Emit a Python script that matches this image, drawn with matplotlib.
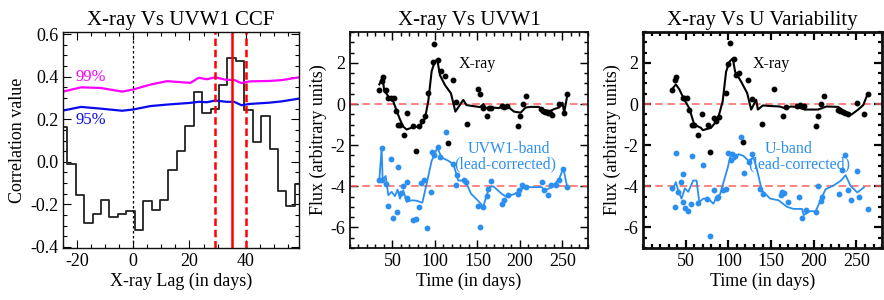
import matplotlib
matplotlib.use("Agg")
import matplotlib.pyplot as plt
from matplotlib.ticker import MultipleLocator

plt.rcParams['font.family'] = ['Liberation Serif', 'DejaVu Serif']
plt.rcParams['axes.unicode_minus'] = False

# ---- panel 1: CCF ----
lags = [-25, -22, -19, -16, -13, -10, -7, -4, -1, 2, 5, 8, 11, 14, 17, 20, 23,
        26, 29, 32, 35, 38, 41, 44, 47, 50, 53, 56, 59]
ccf = [0.165, -0.01, -0.155, -0.287, -0.244, -0.178, -0.259, -0.247, -0.232,
       -0.319, -0.185, -0.225, -0.178, -0.037, 0.049, 0.167, 0.33, 0.228, 0.25,
       0.36, 0.487, 0.474, 0.243, 0.094, 0.216, 0.06, -0.136, -0.208, -0.104]

sig_lag = [-25, -18.6, -11.6, -3.9, 0, 6.1, 12, 20.3, 23.3, 26.2, 29.1, 33.2,
           35.9, 38.5, 41.4, 48.5, 52.8, 59]
sig99 = [0.33, 0.35, 0.347, 0.33, 0.34, 0.363, 0.379, 0.371, 0.395, 0.388,
         0.397, 0.385, 0.385, 0.37, 0.378, 0.38, 0.384, 0.397]
sig95 = [0.241, 0.258, 0.25, 0.24, 0.246, 0.262, 0.269, 0.277, 0.282, 0.28,
         0.288, 0.282, 0.282, 0.266, 0.272, 0.278, 0.284, 0.297]

lag_best = 35
lag_lo, lag_hi = 29, 40

# ---- panel 2: X-ray vs UVW1 ----
xr_t = [34.5, 37.3, 38.8, 42, 45.1, 48.2, 51.4, 53.7, 56.9, 58.8, 63.9, 67.5,
        74.5, 77.6, 81.2, 85.1, 88, 91.4, 97.3, 99.2, 103.1, 107, 111.8, 115.7,
        121.6, 124.7, 137.3, 150.2, 153, 156.9, 160.8, 163.5, 165.9, 179.2,
        181.6, 184.3, 197.3, 200, 203.9, 206.7, 224.7, 227, 229.4, 232.5,
        235.3, 237.3, 246.2, 251.8, 255.3]
xr_f = [0.66, 1.14, 1.30, 0.69, 0.27, 0.27, 0.27, -0.34, -1.01, -1.01, -1.51,
        -0.45, -1.06, -2.27, -1.06, -0.85, -0.6, 0.54, 2.04, 2.94, 2.15, 1.62,
        1.38, -1.91, 1.16, 0.11, -0.98, 0.74, 0.5, -0.18, -0.58, -0.2, -0.2,
        -0.1, -0.14, -0.1, -1.06, -0.58, 0.01, 0.39, -0.26, -0.34, -0.37,
        -0.42, -0.42, -0.53, 0.01, -0.42, 0.5]

xl_t = [34.5, 38.4, 40.4, 43.1, 46.3, 51, 55, 58.8, 62.7, 66.7, 74.5, 80.4,
        85.1, 88.2, 92.2, 96.1, 100, 102.7, 105.9, 111.8, 118.8, 124, 133.3,
        137, 143, 153, 157, 160, 167, 175, 181, 187, 193, 200.8, 206.7, 212.5,
        222, 228, 236, 240, 246, 250, 252, 256]
xl_f = [0.95, 1.3, 0.6, 0.5, 0.28, 0.12, -0.34, -0.75, -1.1, -1.24, -1.12,
        -1.1, -0.92, -0.71, 0.16, 1.6, 2.08, 2.15, 1.4, 0.92, 0.52, -0.37, 0.2,
        -0.05, -0.09, -0.15, 0.0, -0.2, -0.17, -0.2, -0.07, -0.17, -0.37,
        -0.42, -0.17, -0.14, -0.14, -0.3, -0.33, -0.25, -0.17, 0.07, -0.42, 0.5]

uv_t = [34.5, 37.3, 38.0, 42, 45.1, 47.8, 50.9, 54.9, 56.9, 60, 62.7, 66.7,
        67.5, 73.7, 77.6, 81.2, 83.5, 87.5, 90.9, 94.9, 96.9, 99.2, 103.9, 106,
        112.6, 124.5, 121.6, 126, 134, 136, 150.2, 153, 156.9, 160.8, 162.7,
        165.9, 178.4, 181.6, 185.5, 197.3, 199.2, 202.7, 206.7, 225.5, 228.2,
        232.5, 236.5, 242, 246.3, 251, 255.7]
uv_f = [-3.68, -2.14, -3.68, -3.9, -4.96, -2.67, -5.56, -5.24, -3.07, -4.31,
        -4.0, -4.55, -3.8, -5.64, -5.59, -4.99, -3.83, -3.68, -6.01, -4.27,
        -2.35, -2.47, -2.07, -2.6, -1.35, -3.95, -2.9, -3.45, -3.68, -3.8,
        -4.96, -6.0, -4.99, -4.48, -4.15, -3.74, -4.84, -4.67, -4.44, -4.36,
        -4.2, -3.95, -4.05, -3.79, -4.2, -4.44, -3.92, -3.95, -3.68, -3.15,
        -4.05]

ul_t = [34.5, 37.3, 38.4, 42, 45.1, 49, 53, 56, 58.8, 62.7, 66.7, 72.5, 78.4,
        85.1, 90.2, 96.1, 99.2, 102.7, 107.8, 115.7, 121.6, 127.5, 133.3,
        136.5, 142.4, 150.2, 156.9, 160.8, 164.7, 168.6, 178.4, 184.3, 194.1,
        200, 205.9, 225.5, 229.4, 237.3, 246.3, 251, 255.7]
ul_f = [-3.68, -2.14, -3.68, -3.5, -4.43, -4.27, -4.48, -4.16, -4.6, -4.2,
        -4.76, -4.68, -4.7, -4.8, -3.88, -2.76, -2.49, -2.12, -2.6, -2.76,
        -2.92, -3.72, -3.72, -3.8, -4.36, -4.68, -4.99, -4.43, -4.03, -4.0,
        -4.36, -4.52, -4.36, -4.2, -4.04, -4.04, -4.2, -4.04, -3.63, -3.12,
        -4.05]

# ---- panel 3: X-ray vs U ----
xu_t = [34.5, 37.3, 38.8, 46.3, 48.5, 51, 53.7, 57, 60, 63.9, 68.6, 75.7,
        78.4, 83.5, 85, 89, 96.9, 99.2, 102, 106, 108.6, 113, 117.6, 123.5,
        127.5, 139.2, 153.3, 164.3, 167, 180, 184, 188, 202.4, 205, 208, 212.1,
        228, 231, 234, 237, 240, 251, 259.2, 263.2]
xu_f = [0.66, 1.19, 1.3, 0.27, 0.27, 0.27, -0.27, -1.0, -1.0, -1.51, -0.5,
        -1.03, -2.35, -0.68, -0.84, -0.64, 0.54, 1.95, 2.99, 2.2, 1.43, 1.5,
        -1.86, 1.15, 0.24, -0.95, 0.71, -0.59, -0.15, -0.1, -0.05, -0.1, -1.06,
        -0.6, 0.02, 0.39, -0.3, -0.35, -0.4, -0.45, -0.5, 0.05, -0.47, 0.5]

xul_t = [35.5, 38.5, 42.4, 47.4, 54.1, 60, 67.9, 70, 79.6, 87.5, 93.3, 97.3,
         101.2, 105.1, 107.9, 114.9, 122, 126.7, 132.6, 134.5, 140.4, 150, 160,
         165.9, 173.7, 180, 189.4, 205, 215, 228.6, 236, 244.3, 252, 258, 263.2]
xul_f = [0.8, 0.95, 0.72, 0.29, -0.2, -1.0, -1.16, -1.27, -1.16, -0.76, 0.13,
         1.57, 2.05, 2.22, 1.57, 1.09, 0.53, -0.27, 0.21, -0.27, -0.07, -0.1,
         -0.12, -0.2, -0.12, -0.15, -0.27, -0.27, -0.12, -0.14, -0.35, -0.51,
         -0.27, -0.05, 0.5]

ub_t = [34.5, 38.4, 38, 41.2, 44.3, 46.3, 47.1, 49, 52.2, 56.1, 56.9, 64.7,
        69.8, 74.5, 78.8, 83.5, 86.3, 88.2, 94.1, 96.9, 99.2, 103.1, 104.7,
        107.8, 114.9, 118, 124.7, 128, 137.3, 140, 161.2, 163.1, 165, 169.8,
        182.7, 186.7, 190.6, 202.4, 205.1, 208.2, 210.2, 229.8, 232.5, 236.5,
        239.6, 243.5, 250.6, 253.3, 263.1]
ub_f = [-4.07, -2.4, -5.02, -4.26, -3.78, -3.39, -4.77, -5.06, -5.18, -4.85,
        -2.52, -4.82, -2.96, -4.64, -6.44, -4.2, -4.55, -4.5, -4.18, -4.15,
        -2.4, -2.72, -2.44, -2.52, -1.6, -3.36, -2.82, -2.44, -4.12, -4.36,
        -4.43, -4.26, -4.34, -4.77, -4.53, -5.56, -5.15, -5.23, -4.0, -4.71,
        -4.53, -4.39, -3.23, -2.46, -4.2, -4.66, -3.28, -4.53, -5.09]

ubl_t = [34.5, 38.4, 41.2, 45.1, 49, 53, 58.8, 62.7, 65.9, 70.6, 76.5, 82.4,
         86.3, 90.2, 94.1, 99.2, 101.9, 105.9, 107.8, 111.8, 117.6, 123.5,
         129.4, 133.3, 139.2, 149, 158.8, 168.6, 176.5, 186.3, 188.2, 196.1,
         202, 207.8, 213.7, 223.5, 231.4, 237.3, 243.1, 251, 258.8]
ubl_f = [-4.2, -3.8, -4.2, -4.6, -4.1, -4.27, -3.72, -3.72, -4.77, -4.6, -4.6,
         -4.85, -4.5, -4.4, -3.83, -3.1, -2.6, -2.44, -2.7, -2.44, -2.52, -2.76,
         -2.6, -3.16, -4.2, -4.6, -4.68, -5.0, -5.1, -5.1, -5.4, -5.2, -5.23,
         -4.7, -4.15, -3.95, -3.74, -3.46, -3.98, -4.3, -4.05]

uv_color = '#2b8ff0'
ref_color = '#ff6060'

fig = plt.figure(figsize=(8.84, 3.0), dpi=100)
ax1 = fig.add_axes([0.0713, 0.1733, 0.267, 0.72])
ax2 = fig.add_axes([0.3959, 0.1733, 0.2692, 0.72])
ax3 = fig.add_axes([0.7274, 0.1733, 0.2704, 0.72])


def style_axes(ax, lw):
    for s in ax.spines.values():
        s.set_linewidth(lw)
        s.set_color('#111111')
    ax.tick_params(which='both', direction='in', top=True, right=True,
                   labelsize=13, width=lw * 0.8)
    ax.tick_params(which='major', length=6)
    ax.tick_params(which='minor', length=3)


# CCF
ax1.step(lags, ccf, where='mid', color='#222222', lw=1.3)
ax1.plot(sig_lag, sig99, color='#ff00ff', lw=1.6)
ax1.plot(sig_lag, sig95, color='#0a0aee', lw=1.6)
ax1.axvline(0, color='black', lw=0.9, ls=(0, (2, 2)))
ax1.axvline(lag_best, color='#ff0000', lw=1.8)
ax1.axvline(lag_lo, color='#ff0000', lw=1.8, ls=(0, (3, 1.5)))
ax1.axvline(lag_hi, color='#ff0000', lw=1.8, ls=(0, (3, 1.5)))
ax1.text(-15, 0.40, '99%', color='#ff00ff', fontsize=12, ha='center', va='center')
ax1.text(-15, 0.195, '95%', color='#0a0aee', fontsize=12, ha='center', va='center')
ax1.set_xlim(-25, 59)
ax1.set_ylim(-0.405, 0.61)
ax1.xaxis.set_major_locator(MultipleLocator(20))
ax1.xaxis.set_minor_locator(MultipleLocator(5))
ax1.yaxis.set_major_locator(MultipleLocator(0.2))
ax1.yaxis.set_minor_locator(MultipleLocator(0.05))
ax1.yaxis.set_major_formatter(plt.FuncFormatter(lambda v, p: '%.1f' % v))
ax1.set_title('X-ray Vs UVW1 CCF', fontsize=15, pad=5)
ax1.set_xlabel('X-ray Lag (in days)', fontsize=13, labelpad=2)
ax1.set_ylabel('Correlation value', fontsize=13, labelpad=3)
style_axes(ax1, 1.0)


def light_curve(ax, xt, xf, xlt, xlf, bt, bf, blt, blf, band, band_x, lw):
    ax.axhline(0, color=ref_color, lw=1.1, ls=(0, (5, 3)))
    ax.axhline(-4, color=ref_color, lw=1.1, ls=(0, (5, 3)))
    ax.plot(xlt, xlf, color='black', lw=1.5)
    ax.plot(xt, xf, 'o', color='black', ms=3.2)
    ax.plot(blt, blf, color=uv_color, lw=1.3)
    ax.plot(bt, bf, 'o', color=uv_color, ms=3.2)
    ax.text(150, 1.95, 'X-ray', fontsize=11.5, ha='center', va='center')
    ax.text(band_x, -2.2, band, color=uv_color, fontsize=11.5,
            ha='center', va='center')
    ax.text(183, -2.95, '(lead-corrected)', color=uv_color, fontsize=11.5,
            ha='center', va='center')
    ax.set_xlim(0, 280)
    ax.set_ylim(-7, 3.5)
    ax.set_xticks([50, 100, 150, 200, 250])
    ax.xaxis.set_minor_locator(MultipleLocator(10))
    ax.yaxis.set_major_locator(MultipleLocator(2))
    ax.yaxis.set_minor_locator(MultipleLocator(0.5))
    ax.set_xlabel('Time (in days)', fontsize=13, labelpad=2)
    ax.set_ylabel('Flux (arbitrary units)', fontsize=13, labelpad=2)
    style_axes(ax, lw)


light_curve(ax2, xr_t, xr_f, xl_t, xl_f, uv_t, uv_f, ul_t, ul_f,
            'UVW1-band', 187, 1.3)
ax2.set_title('X-ray Vs UVW1', fontsize=15, pad=5)
light_curve(ax3, xu_t, xu_f, xul_t, xul_f, ub_t, ub_f, ubl_t, ubl_f,
            'U-band', 171, 2.0)
ax3.set_title('X-ray Vs U Variability', fontsize=15, pad=5)

fig.savefig('out.png', dpi=100)
